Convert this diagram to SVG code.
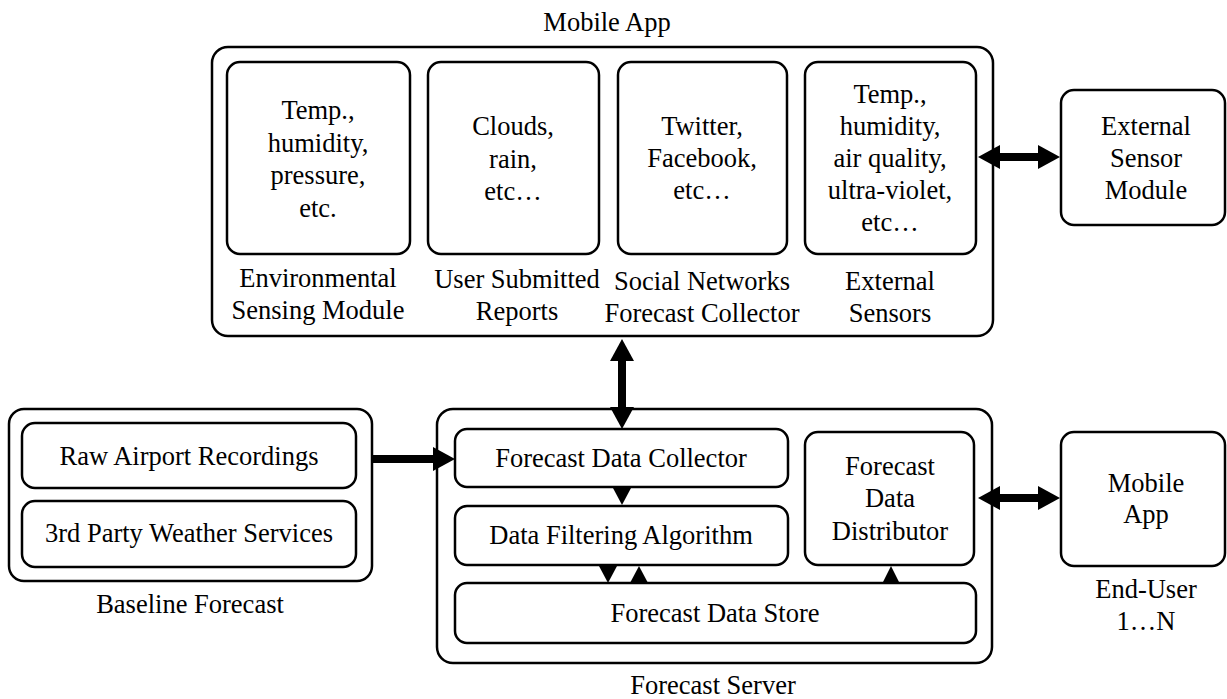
<svg xmlns="http://www.w3.org/2000/svg" width="1227" height="699" viewBox="0 0 1227 699">
<style>
  .box{fill:#fff;stroke:#000;stroke-width:2.5}
  .t text{font-family:'Liberation Serif','DejaVu Serif','Noto Serif',serif;font-size:26.5px;fill:#000;text-anchor:middle}
  .conn{stroke:#000;stroke-width:8;fill:none}
  .tri{fill:#000}
</style>
<defs>
  <marker id="ah" markerUnits="userSpaceOnUse" markerWidth="22" markerHeight="24" refX="0" refY="12" orient="auto-start-reverse" viewBox="0 0 22 24">
    <path d="M0,0 L22,12 L0,24 z" fill="#000"/>
  </marker>
</defs>
<rect width="1227" height="699" fill="#fff"/>
<g class="t" font-family="Liberation Serif, DejaVu Serif, serif">
<g id="mobile-app">
  <rect class="box" x="212" y="47" width="781" height="289" rx="16"/>
  <text x="607" y="31">Mobile App</text>
</g>
<g id="env-sensing">
  <rect class="box" x="227" y="62" width="183" height="192" rx="13"/>
  <text x="318" y="119">Temp.,</text>
  <text x="318" y="152">humidity,</text>
  <text x="318" y="184">pressure,</text>
  <text x="318" y="217">etc.</text>
  <text x="318" y="287">Environmental</text>
  <text x="318" y="319">Sensing Module</text>
</g>
<g id="user-reports">
  <rect class="box" x="428" y="62" width="171" height="192" rx="13"/>
  <text x="513" y="135">Clouds,</text>
  <text x="513" y="168">rain,</text>
  <text x="513" y="200">etc…</text>
  <text x="517" y="288">User Submitted</text>
  <text x="517" y="320">Reports</text>
</g>
<g id="social-networks">
  <rect class="box" x="618" y="62" width="169" height="192" rx="13"/>
  <text x="702" y="135">Twitter,</text>
  <text x="702" y="167">Facebook,</text>
  <text x="702" y="199">etc…</text>
  <text x="702" y="290">Social Networks</text>
  <text x="702" y="322">Forecast Collector</text>
</g>
<g id="external-sensors">
  <rect class="box" x="805" y="62" width="171" height="192" rx="13"/>
  <text x="890" y="103">Temp.,</text>
  <text x="890" y="135">humidity,</text>
  <text x="890" y="167">air quality,</text>
  <text x="890" y="199">ultra-violet,</text>
  <text x="890" y="231">etc…</text>
  <text x="890" y="290">External</text>
  <text x="890" y="322">Sensors</text>
</g>
<g id="external-sensor-module">
  <rect class="box" x="1061" y="90" width="164" height="135" rx="13"/>
  <text x="1146" y="135">External</text>
  <text x="1146" y="167">Sensor</text>
  <text x="1146" y="199">Module</text>
</g>

<g id="baseline-forecast">
  <rect class="box" x="9" y="409" width="363" height="172" rx="15"/>
  <text x="190" y="613">Baseline Forecast</text>
</g>
<g id="raw-airport">
  <rect class="box" x="22" y="423" width="334" height="65" rx="13"/>
  <text x="189" y="465">Raw Airport Recordings</text>
</g>
<g id="third-party">
  <rect class="box" x="22" y="501" width="334" height="66" rx="13"/>
  <text x="189" y="542">3rd Party Weather Services</text>
</g>

<g id="forecast-server">
  <rect class="box" x="437" y="409" width="555" height="254" rx="16"/>
  <text x="713" y="694">Forecast Server</text>
</g>
<g id="data-collector">
  <rect class="box" x="455" y="429" width="333" height="58" rx="12"/>
  <text x="621" y="467">Forecast Data Collector</text>
</g>
<g id="data-filtering">
  <rect class="box" x="455" y="506" width="333" height="59" rx="12"/>
  <text x="621" y="544">Data Filtering Algorithm</text>
</g>
<g id="data-store">
  <rect class="box" x="455" y="583" width="521" height="60" rx="12"/>
  <text x="715" y="622">Forecast Data Store</text>
</g>
<g id="data-distributor">
  <rect class="box" x="805" y="432" width="169" height="133" rx="13"/>
  <text x="890" y="475">Forecast</text>
  <text x="890" y="507">Data</text>
  <text x="890" y="540">Distributor</text>
</g>
<g id="end-user-app">
  <rect class="box" x="1061" y="432" width="164" height="134" rx="13"/>
  <text x="1146" y="492">Mobile</text>
  <text x="1146" y="523">App</text>
  <text x="1146" y="598">End-User</text>
  <text x="1146" y="630">1…N</text>
</g>
</g>
<g id="connectors">
  <line class="conn" x1="1000" y1="157" x2="1038" y2="157" marker-start="url(#ah)" marker-end="url(#ah)"/>
  <line class="conn" x1="622" y1="361" x2="622" y2="407" marker-start="url(#ah)" marker-end="url(#ah)"/>
  <line class="conn" x1="372" y1="459" x2="433" y2="459" marker-end="url(#ah)"/>
  <line class="conn" x1="1000" y1="498" x2="1038" y2="498" marker-start="url(#ah)" marker-end="url(#ah)"/>
  <polygon class="tri" points="613,488 631,488 622,505"/>
  <polygon class="tri" points="599,566 617,566 608,583"/>
  <polygon class="tri" points="630,583 648,583 639,566"/>
  <polygon class="tri" points="882,584 900,584 891,566"/>
</g>
</svg>
